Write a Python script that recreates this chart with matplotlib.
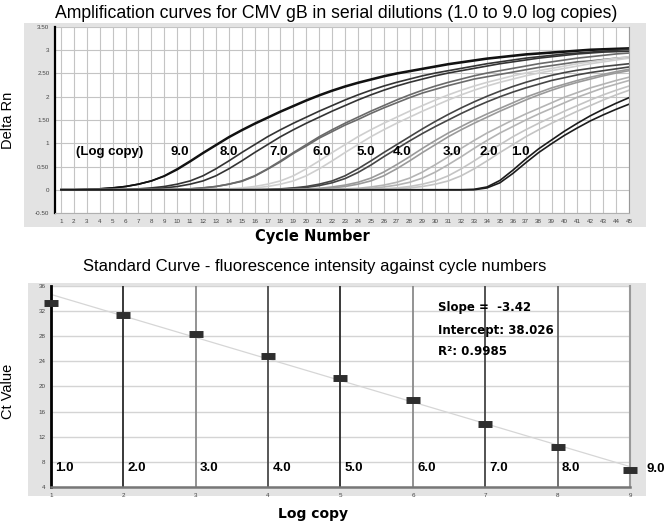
import matplotlib
matplotlib.use("Agg")
import matplotlib.pyplot as plt
import numpy as np
from matplotlib.patches import Rectangle

plt.rcParams['font.family'] = ['Liberation Sans', 'DejaVu Sans']

# ---- amplification curves (Delta Rn per cycle, two replicates per dilution) ----
cycles = np.arange(1, 46)

d9_a = [0.00, 0.00, 0.01, 0.02, 0.04, 0.07, 0.12, 0.19, 0.30, 0.45, 0.62, 0.80, 0.97, 1.14, 1.29,
        1.43, 1.56, 1.69, 1.81, 1.93, 2.04, 2.14, 2.23, 2.31, 2.38, 2.45, 2.51, 2.56, 2.61, 2.66,
        2.71, 2.75, 2.79, 2.83, 2.86, 2.89, 2.92, 2.94, 2.96, 2.98, 3.00, 3.02, 3.03, 3.04, 3.05]
d9_b = [0.00, 0.00, 0.01, 0.02, 0.04, 0.07, 0.12, 0.19, 0.29, 0.43, 0.60, 0.78, 0.95, 1.12, 1.27,
        1.41, 1.54, 1.67, 1.79, 1.91, 2.02, 2.12, 2.21, 2.29, 2.36, 2.43, 2.49, 2.54, 2.59, 2.64,
        2.69, 2.73, 2.77, 2.81, 2.84, 2.87, 2.90, 2.92, 2.94, 2.96, 2.98, 3.00, 3.01, 3.02, 3.03]
d8_a = [0.00, 0.00, 0.00, 0.00, 0.00, 0.01, 0.02, 0.04, 0.07, 0.12, 0.19, 0.30, 0.45, 0.62, 0.80,
        0.97, 1.14, 1.29, 1.43, 1.56, 1.69, 1.81, 1.93, 2.04, 2.14, 2.23, 2.31, 2.38, 2.45, 2.51,
        2.56, 2.61, 2.66, 2.71, 2.75, 2.79, 2.83, 2.86, 2.89, 2.92, 2.94, 2.96, 2.98, 3.00, 3.02]
d8_b = [0.00, 0.00, 0.00, 0.00, 0.00, 0.00, 0.01, 0.02, 0.04, 0.07, 0.12, 0.19, 0.30, 0.45, 0.62,
        0.80, 0.97, 1.14, 1.29, 1.43, 1.56, 1.69, 1.81, 1.93, 2.04, 2.14, 2.23, 2.31, 2.38, 2.45,
        2.51, 2.56, 2.61, 2.66, 2.71, 2.75, 2.79, 2.83, 2.86, 2.89, 2.92, 2.94, 2.96, 2.97, 2.98]
d7_a = [0.00, 0.00, 0.00, 0.00, 0.00, 0.00, 0.00, 0.00, 0.00, 0.01, 0.02, 0.04, 0.07, 0.12, 0.19,
        0.30, 0.45, 0.62, 0.80, 0.97, 1.14, 1.29, 1.43, 1.56, 1.69, 1.81, 1.93, 2.04, 2.14, 2.23,
        2.31, 2.38, 2.45, 2.51, 2.56, 2.61, 2.66, 2.71, 2.75, 2.79, 2.83, 2.86, 2.89, 2.92, 2.94]
d7_b = [0.00, 0.00, 0.00, 0.00, 0.00, 0.00, 0.00, 0.00, 0.00, 0.01, 0.02, 0.04, 0.07, 0.12, 0.18,
        0.29, 0.44, 0.60, 0.78, 0.94, 1.11, 1.25, 1.39, 1.51, 1.64, 1.76, 1.87, 1.98, 2.08, 2.16,
        2.24, 2.31, 2.38, 2.43, 2.48, 2.53, 2.58, 2.63, 2.67, 2.71, 2.75, 2.77, 2.80, 2.83, 2.85]
d6_a = [0.00, 0.00, 0.00, 0.00, 0.00, 0.00, 0.00, 0.00, 0.00, 0.00, 0.00, 0.00, 0.01, 0.02, 0.04,
        0.07, 0.12, 0.19, 0.30, 0.45, 0.62, 0.80, 0.97, 1.14, 1.29, 1.43, 1.56, 1.69, 1.81, 1.93,
        2.04, 2.14, 2.23, 2.31, 2.38, 2.45, 2.51, 2.56, 2.61, 2.66, 2.71, 2.75, 2.79, 2.83, 2.86]
d6_b = [0.00, 0.00, 0.00, 0.00, 0.00, 0.00, 0.00, 0.00, 0.00, 0.00, 0.00, 0.00, 0.00, 0.01, 0.02,
        0.04, 0.07, 0.12, 0.19, 0.30, 0.45, 0.62, 0.80, 0.97, 1.14, 1.29, 1.43, 1.56, 1.69, 1.81,
        1.93, 2.04, 2.14, 2.23, 2.31, 2.38, 2.45, 2.51, 2.56, 2.61, 2.66, 2.71, 2.75, 2.79, 2.83]
d5_a = [0.00, 0.00, 0.00, 0.00, 0.00, 0.00, 0.00, 0.00, 0.00, 0.00, 0.00, 0.00, 0.00, 0.00, 0.00,
        0.00, 0.01, 0.02, 0.04, 0.07, 0.12, 0.19, 0.30, 0.45, 0.62, 0.80, 0.97, 1.14, 1.31, 1.47,
        1.62, 1.76, 1.89, 2.01, 2.12, 2.22, 2.31, 2.39, 2.46, 2.52, 2.57, 2.61, 2.65, 2.68, 2.71]
d5_b = [0.00, 0.00, 0.00, 0.00, 0.00, 0.00, 0.00, 0.00, 0.00, 0.00, 0.00, 0.00, 0.00, 0.00, 0.00,
        0.00, 0.00, 0.01, 0.03, 0.05, 0.09, 0.15, 0.24, 0.37, 0.53, 0.71, 0.88, 1.05, 1.21, 1.36,
        1.50, 1.64, 1.77, 1.89, 2.00, 2.10, 2.19, 2.27, 2.35, 2.41, 2.47, 2.52, 2.56, 2.60, 2.64]
d4_a = [0.00, 0.00, 0.00, 0.00, 0.00, 0.00, 0.00, 0.00, 0.00, 0.00, 0.00, 0.00, 0.00, 0.00, 0.00,
        0.00, 0.00, 0.00, 0.01, 0.02, 0.03, 0.06, 0.10, 0.16, 0.25, 0.38, 0.54, 0.71, 0.89, 1.06,
        1.22, 1.36, 1.50, 1.63, 1.75, 1.87, 1.99, 2.09, 2.19, 2.27, 2.35, 2.42, 2.48, 2.54, 2.59]
d4_b = [0.00, 0.00, 0.00, 0.00, 0.00, 0.00, 0.00, 0.00, 0.00, 0.00, 0.00, 0.00, 0.00, 0.00, 0.00,
        0.00, 0.00, 0.00, 0.00, 0.01, 0.02, 0.04, 0.07, 0.12, 0.19, 0.30, 0.45, 0.62, 0.80, 0.97,
        1.14, 1.29, 1.43, 1.56, 1.69, 1.81, 1.93, 2.04, 2.14, 2.23, 2.31, 2.38, 2.45, 2.51, 2.56]
d3_a = [0.00, 0.00, 0.00, 0.00, 0.00, 0.00, 0.00, 0.00, 0.00, 0.00, 0.00, 0.00, 0.00, 0.00, 0.00,
        0.00, 0.00, 0.00, 0.00, 0.00, 0.00, 0.01, 0.02, 0.03, 0.06, 0.10, 0.16, 0.25, 0.38, 0.54,
        0.71, 0.89, 1.06, 1.22, 1.36, 1.50, 1.63, 1.75, 1.87, 1.99, 2.09, 2.19, 2.27, 2.35, 2.42]
d3_b = [0.00, 0.00, 0.00, 0.00, 0.00, 0.00, 0.00, 0.00, 0.00, 0.00, 0.00, 0.00, 0.00, 0.00, 0.00,
        0.00, 0.00, 0.00, 0.00, 0.00, 0.00, 0.00, 0.01, 0.02, 0.03, 0.06, 0.10, 0.16, 0.25, 0.38,
        0.54, 0.71, 0.89, 1.06, 1.22, 1.36, 1.50, 1.63, 1.75, 1.87, 1.99, 2.09, 2.19, 2.27, 2.35]
d2_a = [0.00, 0.00, 0.00, 0.00, 0.00, 0.00, 0.00, 0.00, 0.00, 0.00, 0.00, 0.00, 0.00, 0.00, 0.00,
        0.00, 0.00, 0.00, 0.00, 0.00, 0.00, 0.00, 0.00, 0.00, 0.01, 0.02, 0.04, 0.07, 0.12, 0.19,
        0.30, 0.45, 0.62, 0.80, 0.97, 1.14, 1.29, 1.43, 1.56, 1.69, 1.81, 1.93, 2.04, 2.14, 2.23]
d2_b = [0.00, 0.00, 0.00, 0.00, 0.00, 0.00, 0.00, 0.00, 0.00, 0.00, 0.00, 0.00, 0.00, 0.00, 0.00,
        0.00, 0.00, 0.00, 0.00, 0.00, 0.00, 0.00, 0.00, 0.00, 0.00, 0.01, 0.02, 0.04, 0.07, 0.12,
        0.19, 0.30, 0.45, 0.62, 0.80, 0.97, 1.14, 1.29, 1.43, 1.56, 1.69, 1.81, 1.93, 2.04, 2.14]
d1_a = [0.00, 0.00, 0.00, 0.00, 0.00, 0.00, 0.00, 0.00, 0.00, 0.00, 0.00, 0.00, 0.00, 0.00, 0.00,
        0.00, 0.00, 0.00, 0.00, 0.00, 0.00, 0.00, 0.00, 0.00, 0.00, 0.00, 0.00, 0.00, 0.00, 0.00,
        0.00, 0.00, 0.01, 0.06, 0.20, 0.42, 0.66, 0.88, 1.07, 1.26, 1.43, 1.59, 1.73, 1.86, 1.98]
d1_b = [0.00, 0.00, 0.00, 0.00, 0.00, 0.00, 0.00, 0.00, 0.00, 0.00, 0.00, 0.00, 0.00, 0.00, 0.00,
        0.00, 0.00, 0.00, 0.00, 0.00, 0.00, 0.00, 0.00, 0.00, 0.00, 0.00, 0.00, 0.00, 0.00, 0.00,
        0.00, 0.00, 0.00, 0.04, 0.15, 0.35, 0.58, 0.80, 0.99, 1.17, 1.33, 1.48, 1.61, 1.73, 1.84]

curve_labels = ['9.0', '8.0', '7.0', '6.0', '5.0', '4.0', '3.0', '2.0', '1.0']
curve_label_x = [10.2, 14.0, 17.9, 21.2, 24.6, 27.4, 31.3, 34.1, 36.6]
curve_colors = ['#111111', '#333333', '#6a6a6a', '#cfcfcf', '#454545',
                '#9a9a9a', '#b4b4b4', '#c4c4c4', '#1c1c1c']

# ---- standard curve ----
log_copy = [1.0, 2.0, 3.0, 4.0, 5.0, 6.0, 7.0, 8.0, 9.0]
ct_value = [33.3, 31.3, 28.3, 24.8, 21.3, 17.9, 14.0, 10.4, 6.7]
vline_colors = ['#000000', '#2a2a2a', '#8a8a8a', '#4a4a4a', '#2a2a2a',
                '#8a8a8a', '#444444', '#666666', '#999999']
slope = -3.42
intercept = 38.026
r_squared = 0.9985

fig = plt.figure(figsize=(6.64, 5.23), dpi=100)

# grey panels behind both charts
fig.patches.append(Rectangle((0.036, 0.566), 0.937, 0.390, transform=fig.transFigure,
                             facecolor='#e3e3e3', edgecolor='none', zorder=-10))
fig.patches.append(Rectangle((0.042, 0.052), 0.931, 0.407, transform=fig.transFigure,
                             facecolor='#e3e3e3', edgecolor='none', zorder=-10))

# ---------------- top: amplification plot ----------------
ax1 = fig.add_axes([0.0828, 0.5927, 0.8645, 0.3557])
ax1.set_facecolor('white')
ax1.set_xlim(0.535, 45)
ax1.set_ylim(-0.5, 3.5)
ax1.set_xticks(cycles)
ax1.set_yticks([-0.5, 0, 0.5, 1, 1.5, 2, 2.5, 3, 3.5])
ax1.set_yticklabels(['-0.50', '0', '0.50', '1', '1.50', '2', '2.50', '3', '3.50'])
ax1.grid(True, color='#c4c4c4', linewidth=0.8)
ax1.set_axisbelow(True)
ax1.tick_params(labelsize=4.5, labelcolor='#444444', length=0, pad=4)
ax1.spines['left'].set_linewidth(1.6)
ax1.spines['left'].set_color('black')
ax1.spines['bottom'].set_color('#b0b0b0')
ax1.spines['right'].set_color('#999999')
ax1.spines['top'].set_visible(False)

curves = [(d9_a, d9_b), (d8_a, d8_b), (d7_a, d7_b), (d6_a, d6_b), (d5_a, d5_b),
          (d4_a, d4_b), (d3_a, d3_b), (d2_a, d2_b), (d1_a, d1_b)]
for (ra, rb), col in zip(curves, curve_colors):
    ax1.plot(cycles, ra, color=col, linewidth=1.2)
    ax1.plot(cycles, rb, color=col, linewidth=1.2)

ax1.text(4.8, 0.82, '(Log copy)', fontsize=9.5, fontweight='bold', ha='center', va='center')
for lab, lx in zip(curve_labels, curve_label_x):
    ax1.text(lx, 0.82, lab, fontsize=9.5, fontweight='bold', ha='center', va='center')

# ---------------- bottom: standard curve ----------------
ax2 = fig.add_axes([0.0768, 0.0688, 0.872, 0.385])
ax2.set_facecolor('white')
ax2.set_xlim(1, 9)
ax2.set_ylim(4, 36)
ax2.set_xticks(log_copy)
ax2.set_xticklabels([str(int(v)) for v in log_copy])
ax2.set_yticks(np.arange(4, 37, 4))
ax2.grid(True, axis='y', color='#d4d4d4', linewidth=1.0)
ax2.set_axisbelow(True)
ax2.tick_params(labelsize=4.5, labelcolor='#444444', length=0, pad=4)
ax2.spines['left'].set_linewidth(2)
ax2.spines['left'].set_color('black')
ax2.spines['bottom'].set_linewidth(1.8)
ax2.spines['bottom'].set_color('#777777')
ax2.spines['right'].set_linewidth(1.5)
ax2.spines['right'].set_color('#999999')
ax2.spines['top'].set_visible(False)

for xv, col in zip(log_copy[1:-1], vline_colors[1:-1]):
    ax2.axvline(xv, color=col, linewidth=1.3, zorder=1)

fit_x = np.array([log_copy[0], log_copy[-1]])
ax2.plot(fit_x, intercept + slope * fit_x, color='#d6d6d6', linewidth=0.9, zorder=2)
ax2.plot(log_copy, ct_value, linestyle='none', marker='_', markersize=10,
         markeredgewidth=5, color='#2e2e2e', zorder=4, clip_on=False)

for xv in log_copy[:-1]:
    ax2.text(xv + 0.06, 7.0, f'{xv:.1f}', fontsize=9.5, fontweight='bold',
             ha='left', va='center')
ax2.text(log_copy[-1] + 0.23, 6.8, f'{log_copy[-1]:.1f}', fontsize=9.5, fontweight='bold',
         ha='left', va='center', clip_on=False)

stat_font = dict(family='DejaVu Sans', fontsize=8.5, fontweight='bold', ha='left', va='center')
ax2.text(6.35, 32.6, f'Slope =  {slope}', **stat_font)
ax2.text(6.35, 28.8, f'Intercept: {intercept}', **stat_font)
ax2.text(6.35, 25.5, f'R²: {r_squared}', **stat_font)

# ---------------- titles and axis labels ----------------
fig.text(336 / 664, 1 - 13 / 523, 'Amplification curves for CMV gB in serial dilutions (1.0 to 9.0 log copies)',
         fontsize=12.7, ha='center', va='center')
fig.text(312 / 664, 1 - 237 / 523, 'Cycle Number', family='DejaVu Sans', fontsize=10.5,
         fontweight='bold', ha='center', va='center')
fig.text(8 / 664, 1 - 120 / 523, 'Delta Rn', fontsize=10.5, rotation=90, ha='center', va='center')
fig.text(315 / 664, 1 - 267 / 523, 'Standard Curve - fluorescence intensity against cycle numbers',
         fontsize=12, ha='center', va='center')
fig.text(8 / 664, 1 - 391 / 523, 'Ct Value', fontsize=10.5, rotation=90, ha='center', va='center')
fig.text(313 / 664, 1 - 514 / 523, 'Log copy', family='DejaVu Sans', fontsize=10,
         fontweight='bold', ha='center', va='center')

fig.savefig('out.png', dpi=100)
